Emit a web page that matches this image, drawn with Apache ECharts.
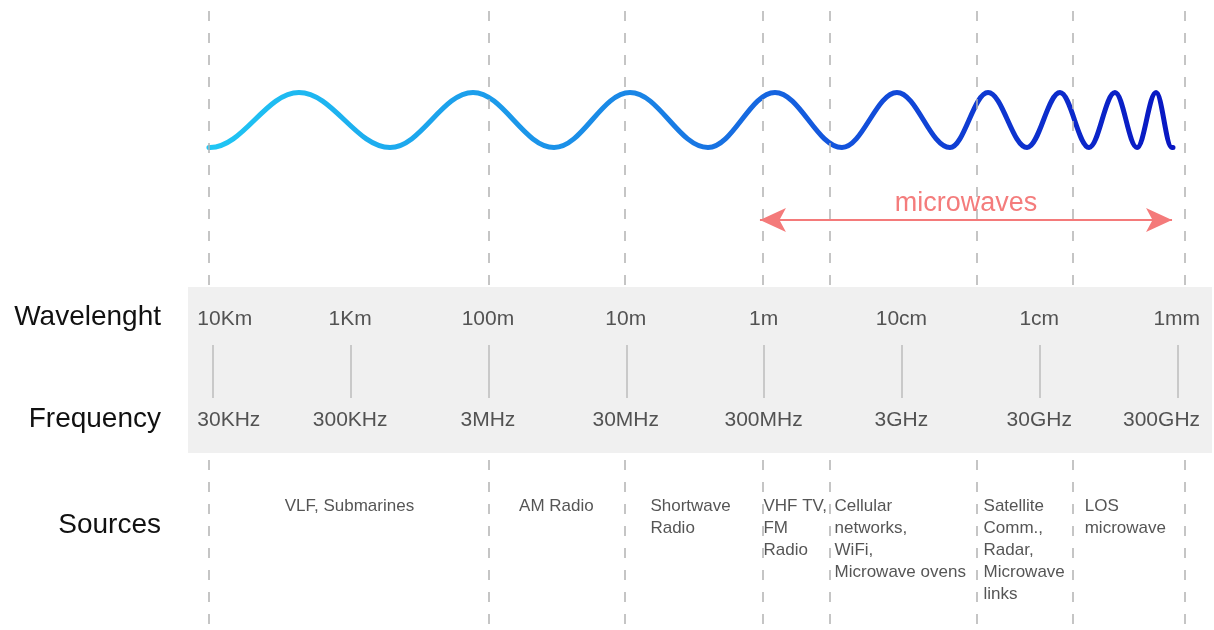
<!DOCTYPE html>
<html><head><meta charset="utf-8">
<script src="https://cdn.jsdelivr.net/npm/echarts@6/dist/echarts.min.js"></script>
<style>html,body{margin:0;padding:0;background:#fff}#c{width:1214px;height:630px}</style>
</head><body><div id="c"></div>
<script>
// x unit: decades above 30KHz (0 = 30KHz / 10Km ... 7 = 300GHz / 1mm)
const rowLabels = ['Wavelenght', 'Frequency', 'Sources'];
const decades = [0, 1, 2, 3, 4, 5, 6, 7];
const wavelengthLabels = ['10Km', '1Km', '100m', '10m', '1m', '10cm', '1cm', '1mm'];
const frequencyLabels = ['30KHz', '300KHz', '3MHz', '30MHz', '300MHz', '3GHz', '30GHz', '300GHz'];
const bandBoundaries = [-0.03, 2.0, 2.99, 3.99, 4.48, 5.54, 6.24, 7.05];
const sourceNames = ['VLF, Submarines', 'AM Radio', 'Shortwave\nRadio', 'VHF TV,\nFM\nRadio',
  'Cellular\nnetworks,\nWiFi,\nMicrowave ovens', 'Satellite\nComm.,\nRadar,\nMicrowave\nlinks', 'LOS\nmicrowave'];
const sourceX = [0.995, 2.497, 3.179, 3.999, 4.515, 5.596, 6.33];
// wave extrema (trough = -1, crest = 1) read along the decade axis
const waveX = [-0.028, 0.625, 1.286, 1.888, 2.476, 3.027, 3.593, 4.079, 4.565, 4.964,
  5.349, 5.625, 5.908, 6.147, 6.358, 6.546, 6.706, 6.844, 6.967];
const waveY = [-1, 1, -1, 1, -1, 1, -1, 1, -1, 1, -1, 1, -1, 1, -1, 1, -1, 1, -1];
const microwaveRange = [3.97, 6.96];
const microwaveLabel = 'microwaves';

const X_MIN = -0.18, X_MAX = 7.25, GRID_L = 188, GRID_R = 2, W = 1214;
const pxPerDecade = (W - GRID_L - GRID_R) / (X_MAX - X_MIN);
const FONT = 'Liberation Sans, Arial, Helvetica, sans-serif';
const arrowY = -3.64;

const dashStyle = { type: [10, 12], color: '#b3b3b3', width: 1.5 };

// Wave points; the two ends get a 1px flat lead so the smoothed curve
// leaves/enters them horizontally, like the reference.
const lead = 1.2 / pxPerDecade;
const n = waveX.length;
const wavePoints = [[waveX[0], waveY[0]], [waveX[0] + lead, waveY[0]]]
  .concat(waveX.slice(1, n - 1).map((x, i) => [x, waveY[i + 1]]))
  .concat([[waveX[n - 1] - lead, waveY[n - 1]], [waveX[n - 1], waveY[n - 1]]]);

const xAxes = [0, 1, 2].map(i => ({
  gridIndex: i, type: 'value', min: X_MIN, max: X_MAX, show: false
}));

const chart = echarts.init(document.getElementById('c'), null, { renderer: 'canvas' });
chart.setOption({
  animation: false,
  backgroundColor: '#ffffff',
  textStyle: { fontFamily: FONT },
  grid: [
    { left: GRID_L, right: GRID_R, top: 10, height: 275 },
    { left: GRID_L, right: GRID_R, top: 287, height: 166, show: true, backgroundColor: '#f0f0f0', borderWidth: 0 },
    { left: GRID_L, right: GRID_R, top: 460, height: 165 }
  ],
  xAxis: xAxes,
  yAxis: [
    { gridIndex: 0, type: 'value', min: -6, max: 4, show: false },
    { gridIndex: 1, type: 'value', min: 0, max: 10, inverse: true,
      axisLine: { show: false }, axisTick: { show: false }, splitLine: { show: false },
      axisLabel: { customValues: [1.81, 7.95], formatter: v => (v < 5 ? rowLabels[0] : rowLabels[1]),
        fontSize: 28, color: '#111', margin: 27, fontFamily: FONT } },
    { gridIndex: 2, type: 'value', min: 0, max: 10, inverse: true,
      axisLine: { show: false }, axisTick: { show: false }, splitLine: { show: false },
      axisLabel: { customValues: [3.94], formatter: () => rowLabels[2],
        fontSize: 28, color: '#111', margin: 27, fontFamily: FONT } }
  ],
  series: [
    {
      name: 'wave', type: 'line', xAxisIndex: 0, yAxisIndex: 0,
      data: wavePoints,
      smooth: 0.37, smoothMonotone: 'x', showSymbol: false, silent: true,
      lineStyle: {
        width: 5, cap: 'round',
        color: new echarts.graphic.LinearGradient(0, 0, 1, 0, [
          { offset: 0, color: '#1fc6f4' },
          { offset: 0.44, color: '#1a86e6' },
          { offset: 0.66, color: '#1352dc' },
          { offset: 1, color: '#0816c2' }
        ])
      },
      markLine: {
        silent: true, symbol: 'none', label: { show: false },
        lineStyle: dashStyle,
        data: bandBoundaries.map(x => ({ xAxis: x }))
      }
    },
    {
      name: 'microwaves', type: 'line', xAxisIndex: 0, yAxisIndex: 0,
      data: [], silent: true,
      markLine: {
        silent: true, symbol: ['arrow', 'arrow'], symbolSize: [18, 26],
        lineStyle: { color: '#f47a7a', width: 2, type: 'solid' },
        label: { show: true, position: 'middle', formatter: microwaveLabel,
          color: '#f47c7c', fontSize: 27, distance: 3, fontFamily: FONT },
        data: [[{ coord: [microwaveRange[0], arrowY] }, { coord: [microwaveRange[1], arrowY] }]]
      }
    },
    {
      name: 'wavelength', type: 'scatter', xAxisIndex: 1, yAxisIndex: 1,
      symbolSize: 1, itemStyle: { color: 'rgba(0,0,0,0)' }, silent: true,
      label: { show: true, position: [0, 0], align: 'center', verticalAlign: 'middle',
        formatter: p => p.name, fontSize: 21, color: '#2a2a2a' },
      data: decades.map((d, i) => ({
        name: wavelengthLabels[i], value: [d, 1.99],
        label: i === 0 ? { align: 'left', offset: [-15, 0] } :
          (i === decades.length - 1 ? { align: 'right', offset: [23, 0] } : {})
      })),
      markLine: {
        silent: true, symbol: 'none', label: { show: false },
        lineStyle: { color: '#c9c9c9', width: 2, type: 'solid' },
        data: decades.map(d => [{ coord: [d, 3.49] }, { coord: [d, 6.69] }])
      }
    },
    {
      name: 'frequency', type: 'scatter', xAxisIndex: 1, yAxisIndex: 1,
      symbolSize: 1, itemStyle: { color: 'rgba(0,0,0,0)' }, silent: true,
      label: { show: true, position: [0, 0], align: 'center', verticalAlign: 'middle',
        formatter: p => p.name, fontSize: 21, color: '#2a2a2a' },
      data: decades.map((d, i) => ({
        name: frequencyLabels[i], value: [d, 8.07],
        label: i === 0 ? { align: 'left', offset: [-15, 0] } :
          (i === decades.length - 1 ? { align: 'right', offset: [23, 0] } : {})
      }))
    },
    {
      name: 'sources', type: 'scatter', xAxisIndex: 2, yAxisIndex: 2,
      symbolSize: 1, itemStyle: { color: 'rgba(0,0,0,0)' }, silent: true,
      label: { show: true, position: [0, 0], verticalAlign: 'top',
        formatter: p => p.name, fontSize: 17, lineHeight: 22, color: '#2a2a2a' },
      data: sourceNames.map((n, i) => ({
        name: n, value: [sourceX[i], 2.2],
        label: { align: i < 2 ? 'center' : 'left' }
      })),
      markLine: {
        silent: true, symbol: 'none', label: { show: false },
        lineStyle: dashStyle,
        data: bandBoundaries.map(x => ({ xAxis: x }))
      }
    }
  ]
});
</script>
</body></html>
